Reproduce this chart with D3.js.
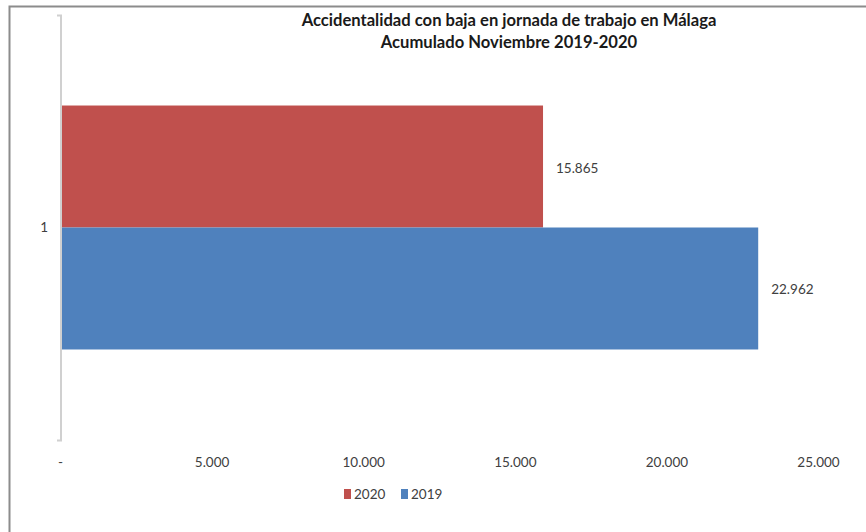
<!DOCTYPE html>
<html><head><meta charset="utf-8">
<script src="https://cdn.jsdelivr.net/npm/d3@7"></script>
<style>body{margin:0;background:#fff}svg{display:block}</style>
</head><body>
<script>
const categories = ["1"];
const seriesNames = ["2020", "2019"];
const values2020 = [15865];
const values2019 = [22962];
const seriesColors = ["#C0504D", "#4F81BD"];
const xTicks = [0, 5000, 10000, 15000, 20000, 25000];
const titleLines = ["Accidentalidad con baja en jornada de trabajo en Málaga", "Acumulado Noviembre 2019-2020"];

const W = 866, H = 532;
const svg = d3.select("body").append("svg").attr("width", W).attr("height", H);
const font = "Lato, 'Open Sans', sans-serif";

// frame
svg.append("path").attr("d", `M9.5,${H} V6.5 H${W}`).attr("fill","none").attr("stroke","#8c8c8c").attr("stroke-width",2);

const fmt = v => v === 0 ? "-" : d3.format(",")(v).replace(/,/g, ".");

const x = d3.scaleLinear().domain([0, 25000]).range([62, 820]);
const y = d3.scaleBand().domain(categories).range([15, 440]).paddingInner(0).paddingOuter(0.371);
const ySub = d3.scaleBand().domain(seriesNames).range([0, y.bandwidth()]);

// title
svg.append("g").selectAll("text").data(titleLines).join("text")
  .attr("x", 509).attr("y", (d,i) => 26 + i*22)
  .attr("text-anchor","middle").attr("font-family", font).attr("font-weight","bold")
  .attr("font-size", 16.6).attr("fill","#1a1a1a").text(d => d);

const series = seriesNames.map((s, i) => ({name: s, color: seriesColors[i], values: i === 0 ? values2020 : values2019}));

const g = svg.append("g");
series.forEach(s => {
  g.selectAll(null).data(categories).join("rect")
    .attr("x", x(0)).attr("y", (c) => y(c) + ySub(s.name))
    .attr("width", (c, i) => x(s.values[i]) - x(0))
    .attr("height", ySub.bandwidth()).attr("fill", s.color);
  g.selectAll(null).data(categories).join("text")
    .attr("x", (c, i) => x(s.values[i]) + 13)
    .attr("y", (c) => y(c) + ySub(s.name) + ySub.bandwidth()/2 + 6)
    .attr("font-family", font).attr("font-size", 13.5).attr("fill", "#404040")
    .text((c, i) => fmt(s.values[i]));
});

// y axis
const yAxis = d3.axisLeft(y).tickSize(0).tickPadding(14);
const ya = svg.append("g").attr("transform", `translate(${x(0)},0)`).call(yAxis);
ya.select(".domain").remove();
ya.selectAll("text").attr("font-family", font).attr("font-size", 13.5).attr("fill", "#404040");
svg.append("path").attr("d", `M57,15.5 H61 V440.5 H57`).attr("fill","none").attr("stroke","#d0d0d0").attr("stroke-width",2);

// x axis labels
const xAxis = d3.axisBottom(x).tickValues(xTicks).tickFormat(fmt).tickSize(0).tickPadding(0);
const xa = svg.append("g").attr("transform", `translate(-2,457)`).call(xAxis);
xa.select(".domain").remove();
xa.selectAll("text").attr("font-family", font).attr("font-size", 13.5).attr("fill", "#404040");

// legend
const leg = svg.append("g").attr("transform", "translate(344,494)");
let lx = 0;
series.forEach(s => {
  leg.append("rect").attr("x", lx).attr("y", -5).attr("width", 7).attr("height", 10).attr("fill", s.color);
  leg.append("text").attr("x", lx + 10).attr("y", 5).attr("font-family", font).attr("font-size", 13.5).attr("fill", "#404040").text(s.name);
  lx += 57;
});
</script>
</body></html>
